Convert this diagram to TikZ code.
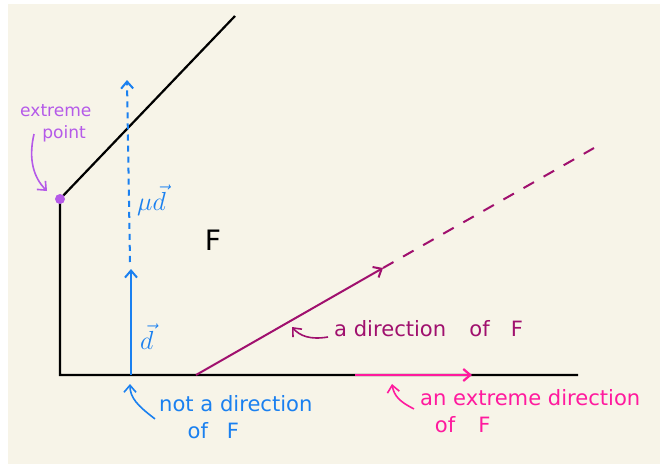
\documentclass[tikz,border=0pt]{standalone}
\usepackage{fix-cm}
\usepackage{fontspec}
\setsansfont{DejaVu Sans}
\usepackage{amsfonts, amssymb, amsmath}
\usepackage{tikz}
\usetikzlibrary{arrows.meta}

\definecolor{paper}{HTML}{F7F4E8}
\definecolor{dirblue}{HTML}{1A80F0}
\definecolor{raymag}{HTML}{A0106E}
\definecolor{extpink}{HTML}{FF1A9E}
\definecolor{ptpurple}{HTML}{B55AE8}

\tikzset{
    hand/.style={font=\sffamily\fontsize{21}{27}\selectfont, inner sep=0pt, align=left},
    barb/.style={-{Straight Barb[length=7pt, width=12pt]}},
    edge/.style={line width=2.2pt, black, line join=miter},
}

\begin{document}
\begin{tikzpicture}[x=0.035cm, y=-0.035cm]
    % paper
    \fill[white] (0,0) rectangle (660,464);
    \fill[paper] (8,4) rectangle (660,464);

    % the set F
    \coordinate (top) at (235,16);
    \coordinate (apex) at (60,199);
    \coordinate (corner) at (60,375);
    \coordinate (far) at (578,375);
    \draw[edge] (top) -- (apex) -- (corner) -- (far);
    \node[hand, font=\sffamily\fontsize{28}{30}\selectfont] (setF) at (213,240) {F};

    % extreme point
    \fill[ptpurple] (apex) circle (5);
    \node[hand, text=ptpurple, anchor=north west, font=\sffamily\fontsize{17}{22}\selectfont] (extpt) at (20,104) {extreme\\\hspace{1.3em}point};
    \draw[ptpurple, line width=1.6pt, barb] (34,134) .. controls (28,160) and (34,178) .. (47,191);

    % not a direction
    \coordinate (dbase) at (131,375);
    \coordinate (dtip) at (131,269);
    \coordinate (mutip) at (127,80);
    \draw[dirblue, line width=2pt, dash pattern=on 6pt off 5pt, barb] (130,262) -- (mutip);
    \draw[dirblue, line width=2pt, barb] (dbase) -- (dtip);
    \node[hand, text=dirblue, anchor=west, font=\fontsize{26}{28}\selectfont] (mud) at (137,200) {$\mu\vec{d}$};
    \node[hand, text=dirblue, anchor=west, font=\fontsize{26}{28}\selectfont] (dvec) at (140,337) {$\vec{d}$};
    \node[hand, text=dirblue, anchor=north west] (notdir) at (159,395) {not a direction\\\hspace{1.35em}of\hspace{0.9em}F};
    \draw[dirblue, line width=1.6pt, barb] (notdir.west) ++(-4,2) .. controls (138,406) and (130,398) .. (130,384);

    % a direction
    \coordinate (ray0) at (196,375);
    \coordinate (raytip) at (383,268);
    \coordinate (rayend) at (594,148);
    \draw[raymag, line width=2pt, barb] (ray0) -- (raytip);
    \draw[raymag, line width=2pt, dash pattern=on 12pt off 11pt] (raytip) -- (rayend);
    \node[hand, text=raymag, anchor=west] (adir) at (334,329) {a direction\hspace{1.1em}of\hspace{1em}F};
    \draw[raymag, line width=1.6pt, barb] (adir.west) ++(-6,8) .. controls (310,340) and (300,336) .. (292,327);

    % an extreme direction
    \coordinate (ext0) at (355,375);
    \coordinate (ext1) at (472,375);
    \draw[extpink, line width=2.2pt, barb] (ext0) -- (ext1);
    \node[hand, text=extpink, anchor=north west] (extdir) at (420,389) {an extreme direction\\\hspace{0.7em}of\hspace{1.1em}F};
    \draw[extpink, line width=1.6pt, barb] (extdir.west) ++(-6,-2) .. controls (400,402) and (394,396) .. (392,384);
\end{tikzpicture}
\end{document}
